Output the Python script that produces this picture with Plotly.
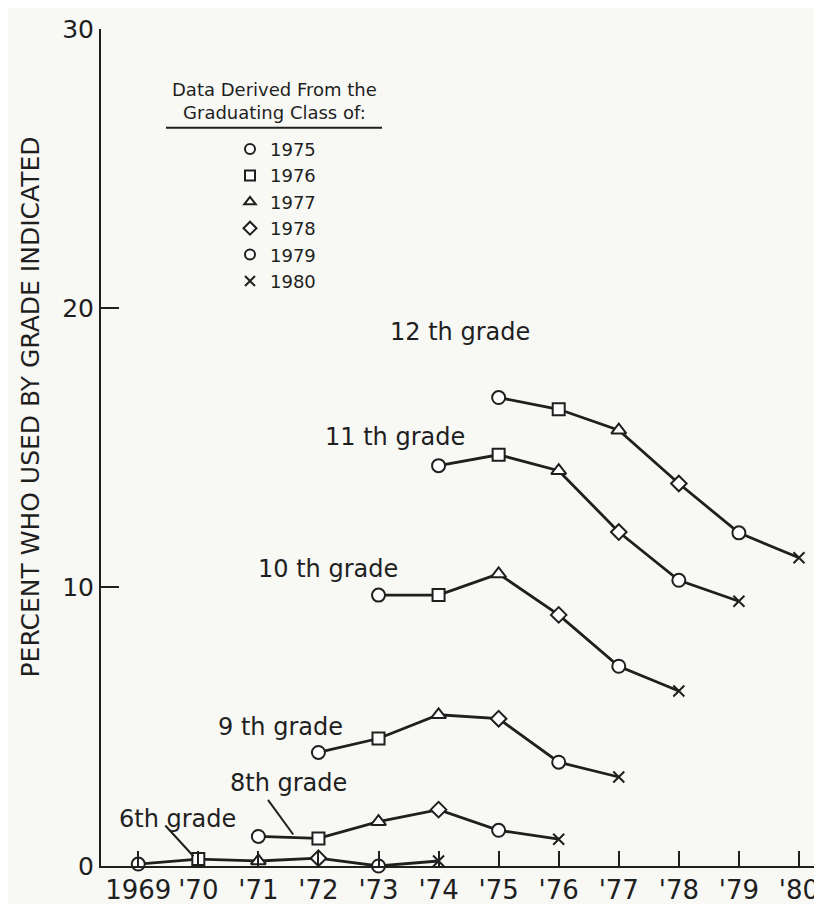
import plotly.graph_objects as go

years_tick = [1969, 1970, 1971, 1972, 1973, 1974, 1975, 1976, 1977, 1978, 1979, 1980]
tick_text = ["1969", "'70", "'71", "'72", "'73", "'74", "'75", "'76", "'77", "'78", "'79", "'80"]

class_years = ["1975", "1976", "1977", "1978", "1979", "1980"]
class_symbols = ["circle", "square", "triangle-up", "diamond", "circle", "x-thin-open"]

grade_names = ["6th grade", "8th grade", "9 th grade", "10 th grade", "11 th grade", "12 th grade"]
grade_years = {
    "6th grade": [1969, 1970, 1971, 1972, 1973, 1974],
    "8th grade": [1971, 1972, 1973, 1974, 1975, 1976],
    "9 th grade": [1972, 1973, 1974, 1975, 1976, 1977],
    "10 th grade": [1973, 1974, 1975, 1976, 1977, 1978],
    "11 th grade": [1974, 1975, 1976, 1977, 1978, 1979],
    "12 th grade": [1975, 1976, 1977, 1978, 1979, 1980],
}
grade_values = {
    "6th grade": [0.07, 0.25, 0.18, 0.28, 0.0, 0.18],
    "8th grade": [1.06, 0.99, 1.59, 2.02, 1.28, 0.96],
    "9 th grade": [4.07, 4.57, 5.42, 5.28, 3.72, 3.19],
    "10 th grade": [9.71, 9.71, 10.47, 9.0, 7.16, 6.27],
    "11 th grade": [14.35, 14.74, 14.17, 11.97, 10.24, 9.49],
    "12 th grade": [16.79, 16.37, 15.62, 13.71, 11.94, 11.05],
}
# label positions (data coords) for grade labels
label_pos = {
    "6th grade": (1969.65, 1.70),
    "8th grade": (1971.50, 2.98),
    "9 th grade": (1971.36, 4.99),
    "10 th grade": (1972.16, 10.66),
    "11 th grade": (1973.28, 15.37),
    "12 th grade": (1974.36, 19.13),
}
leaders = {
    "6th grade": ((1969.45, 1.45), (1969.92, 0.35)),
    "8th grade": ((1971.16, 2.37), (1971.58, 1.13)),
}

INK = "#1f1f1f"
BG = "#f8f8f4"
FONT = "DejaVu Sans"

sizes = {"circle": 13, "square": 12, "triangle-up": 13, "diamond": 12, "x-thin-open": 11}


def fill_for(s):
    return INK if s.endswith("-open") else "#ffffff"


fig = go.Figure()
for g in grade_names:
    syms = class_symbols
    fig.add_trace(go.Scatter(
        x=grade_years[g], y=grade_values[g], mode="lines+markers",
        line=dict(color=INK, width=2.8),
        marker=dict(symbol=syms, size=[sizes[s] for s in syms],
                    color=[fill_for(s) for s in syms], opacity=1,
                    line=dict(color=INK, width=2)),
        showlegend=False, cliponaxis=False, hoverinfo="skip"))

for cy, s in zip(class_years, class_symbols):
    fig.add_trace(go.Scatter(
        x=[None], y=[None], mode="markers", name=cy,
        marker=dict(symbol=s, size=10, color=fill_for(s), line=dict(color=INK, width=2)),
        showlegend=True))


def px_x(p):
    return (p - 93) / 722


def px_y(p):
    return (867 - p) / 847


annotations = []
for g in grade_names:
    x, y = label_pos[g]
    annotations.append(dict(x=x, y=y, xref="x", yref="y", text=g, showarrow=False,
                            xanchor="center", yanchor="middle",
                            font=dict(family=FONT, size=24, color=INK)))
annotations.append(dict(x=px_x(266), y=px_y(93), xref="paper", yref="paper",
                        xanchor="center", yanchor="middle",
                        text="Data Derived From the<br>Graduating Class of:", showarrow=False,
                        font=dict(family=FONT, size=18, color=INK), align="center"))
annotations.append(dict(x=px_x(22), y=px_y(403), xref="paper", yref="paper",
                        xanchor="center", yanchor="middle",
                        text="PERCENT WHO USED BY GRADE INDICATED", showarrow=False, textangle=-90,
                        font=dict(family=FONT, size=25, color=INK)))

shapes = []
for g, ((x0, y0), (x1, y1)) in leaders.items():
    shapes.append(dict(type="line", xref="x", yref="y", x0=x0, y0=y0, x1=x1, y1=y1,
                       line=dict(color=INK, width=2)))
shapes.append(dict(type="line", xref="paper", yref="paper",
                   x0=px_x(158), x1=px_x(374), y0=px_y(120), y1=px_y(120),
                   line=dict(color=INK, width=2)))

fig.update_layout(
    width=822, height=904,
    margin=dict(l=93, r=7, t=20, b=37),
    paper_bgcolor=BG, plot_bgcolor=BG,
    font=dict(family=FONT, color=INK),
    annotations=annotations, shapes=shapes,
    legend=dict(x=px_x(222), y=px_y(123), xanchor="left", yanchor="top",
                bgcolor="rgba(0,0,0,0)", font=dict(family=FONT, size=18, color=INK),
                itemclick=False),
    xaxis=dict(range=[1968.38, 1980.4], tickvals=years_tick, ticktext=tick_text,
               showgrid=False, zeroline=False, showline=True, linecolor=INK, linewidth=2,
               ticks="inside", ticklen=15, tickwidth=2, tickcolor=INK,
               tickfont=dict(family=FONT, size=26, color=INK)),
    yaxis=dict(range=[0, 30], tickvals=[0, 10, 20, 30], showgrid=False, zeroline=False,
               showline=True, linecolor=INK, linewidth=2,
               ticks="inside", ticklen=18, tickwidth=2, tickcolor=INK,
               tickfont=dict(family=FONT, size=25, color=INK)),
)

fig.write_html("out.html")
